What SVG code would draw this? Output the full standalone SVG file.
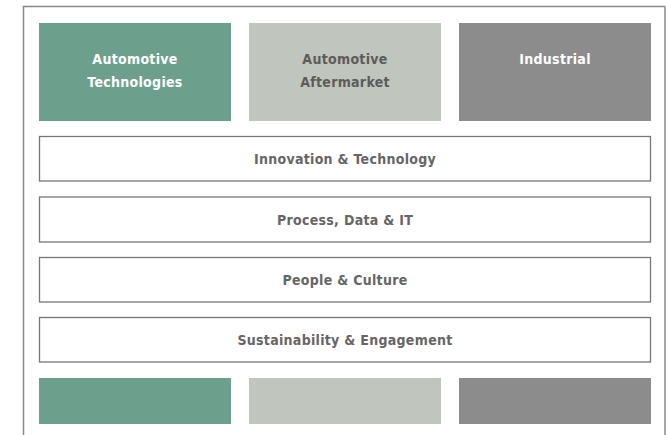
<svg xmlns="http://www.w3.org/2000/svg" width="666" height="435" viewBox="0 0 666 435">
<style>
.t{font-family:'DejaVu Sans Condensed','DejaVu Sans',sans-serif;font-stretch:condensed;font-weight:bold;font-size:14px;text-anchor:middle;letter-spacing:0.3px}
.bar{fill:#fff;stroke:#777;stroke-width:1.3}
.green{fill:#6ca08d}
.light{fill:#c0c5bd}
.dark{fill:#8c8c8c}
.tw{fill:#ffffff}
.tg{fill:#5c5c5c}
.tb{fill:#666666}
</style>
<rect x="0" y="0" width="666" height="435" fill="#fff"/>
<path d="M23.5 440 V6.5 H665" fill="none" stroke="#888" stroke-width="1.5"/>
<path d="M665 6.5 V440" fill="none" stroke="#888" stroke-width="1.5"/>
<g id="connectors"></g>
<g id="automotive-technologies">
<rect class="green" x="39" y="23" width="192" height="98"/>
<text class="t tw" x="135" y="64">Automotive</text>
<text class="t tw" x="135" y="87">Technologies</text>
</g>
<g id="automotive-aftermarket">
<rect class="light" x="249" y="23" width="192" height="98"/>
<text class="t tg" x="345" y="64">Automotive</text>
<text class="t tg" x="345" y="87">Aftermarket</text>
</g>
<g id="industrial">
<rect class="dark" x="459" y="23" width="192" height="98"/>
<text class="t tw" x="555" y="64">Industrial</text>
</g>
<g id="innovation">
<rect class="bar" x="39.5" y="136.5" width="611" height="44.5"/>
<text class="t tb" x="345" y="164">Innovation &amp; Technology</text>
</g>
<g id="process">
<rect class="bar" x="39.5" y="197" width="611" height="45"/>
<text class="t tb" x="345" y="224.5">Process, Data &amp; IT</text>
</g>
<g id="people">
<rect class="bar" x="39.5" y="257.5" width="611" height="44.5"/>
<text class="t tb" x="345" y="285">People &amp; Culture</text>
</g>
<g id="sustainability">
<rect class="bar" x="39.5" y="317.5" width="611" height="44.5"/>
<text class="t tb" x="345" y="345">Sustainability &amp; Engagement</text>
</g>
<g id="base-automotive-technologies"><rect class="green" x="39" y="378" width="192" height="46"/></g>
<g id="base-automotive-aftermarket"><rect class="light" x="249" y="378" width="192" height="46"/></g>
<g id="base-industrial"><rect class="dark" x="459" y="378" width="192" height="46"/></g>
</svg>
